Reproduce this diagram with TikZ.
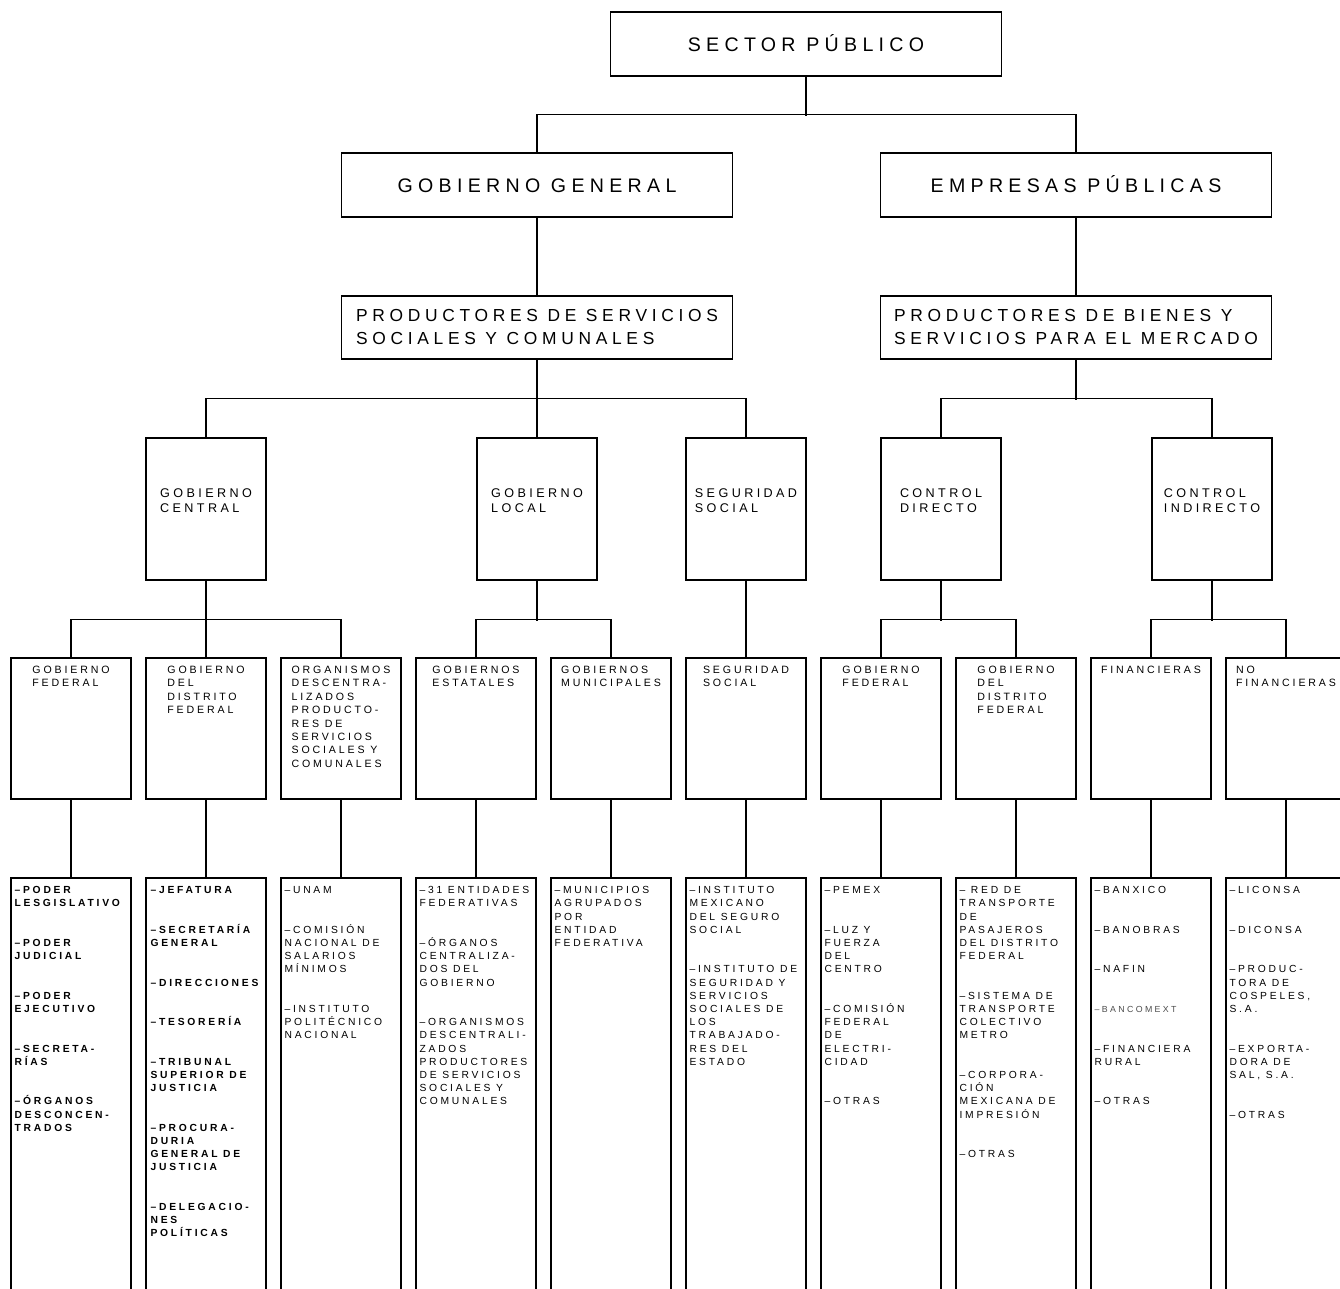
\documentclass[tikz,border=0pt]{standalone}
\usepackage{fontspec}
\setmainfont{Liberation Sans}[LetterSpace=27]
\usetikzlibrary{positioning}
\newcommand{\blankrow}{\\[26.4pt]}

\begin{document}
\begin{tikzpicture}[x=1pt,y=-1pt,
    every node/.style={inner sep=0pt},
    headbox/.style={draw,line width=1.3pt,minimum width=391pt,minimum height=64pt,
      text height=14pt,text depth=0pt,font=\fontsize{19.6}{22}\selectfont},
    prodbox/.style={draw,line width=1.3pt,minimum width=391pt,minimum height=63pt,align=left,
      font=\fontsize{17.4}{23}\selectfont},
    unitbox/.style={draw,line width=1.3pt,minimum width=120pt,minimum height=142pt},
    subbox/.style={unitbox,minimum height=141pt},
    listbox/.style={unitbox,minimum height=500pt},
    unittext/.style={align=left,font=\fontsize{12.6}{15}\selectfont},
    subtext/.style={align=left,font=\fontsize{10.6}{13.4}\selectfont},
    listtext/.style={align=left,font=\fontsize{10.3}{13.2}\selectfont},
    boldtext/.style={align=left,font=\fontsize{10.3}{13.2}\selectfont\bfseries},
    link/.style={line width=1.2pt}]
    \useasboundingbox (0,0) rectangle (1340,1288);
    \clip (0,0) rectangle (1340,1288);

    % top levels
    \node[headbox] (sp) at (806,44) {SECTOR PÚBLICO};
    \node[headbox] (gg) at (537,185) {GOBIERNO GENERAL};
    \node[headbox] (ep) at (1076,185) {EMPRESAS PÚBLICAS};
    \node[prodbox] (pss) at (537,327.5) {PRODUCTORES DE SERVICIOS\\SOCIALES Y COMUNALES};
    \node[prodbox] (pbs) at (1076,327.5) {PRODUCTORES DE BIENES Y\\SERVICIOS PARA EL MERCADO};

    % units
    \node[unitbox] (gc) at (206,509) {};
    \node[unitbox] (gl) at (537,509) {};
    \node[unitbox] (ss) at (746,509) {};
    \node[unitbox] (cd) at (941,509) {};
    \node[unitbox] (ci) at (1212,509) {};
    \node[unittext,below=51pt of gc.north] (gct) {GOBIERNO\\CENTRAL};
    \node[unittext,below=51pt of gl.north] (glt) {GOBIERNO\\LOCAL};
    \node[unittext,below=51pt of ss.north] (sst) {SEGURIDAD\\SOCIAL};
    \node[unittext,below=51pt of cd.north] (cdt) {CONTROL\\DIRECTO};
    \node[unittext,below=51pt of ci.north] (cit) {CONTROL\\INDIRECTO};

    % sub units
    \foreach \i/\x in {1/71,2/206,3/341,4/476,5/611,6/746,7/881,8/1016,9/1151,10/1286}{
      \node[subbox] (sub\i) at (\x,728.5) {};
      \node[listbox] (lst\i) at (\x,1128) {};
    }
    \node[subtext,below=8.5pt of sub1.north] (sub1t) {GOBIERNO\\FEDERAL};
    \node[subtext,below=8.5pt of sub2.north] (sub2t) {GOBIERNO\\DEL\\DISTRITO\\FEDERAL};
    \node[subtext,below=8.5pt of sub3.north] (sub3t) {ORGANISMOS\\DESCENTRA-\\LIZADOS\\PRODUCTO-\\RES DE\\SERVICIOS\\SOCIALES Y\\COMUNALES};
    \node[subtext,below=8.5pt of sub4.north] (sub4t) {GOBIERNOS\\ESTATALES};
    \node[subtext,below=8.5pt of sub5.north] (sub5t) {GOBIERNOS\\MUNICIPALES};
    \node[subtext,below=8.5pt of sub6.north] (sub6t) {SEGURIDAD\\SOCIAL};
    \node[subtext,below=8.5pt of sub7.north] (sub7t) {GOBIERNO\\FEDERAL};
    \node[subtext,below=8.5pt of sub8.north] (sub8t) {GOBIERNO\\DEL\\DISTRITO\\FEDERAL};
    \node[subtext,below=8.5pt of sub9.north] (sub9t) {FINANCIERAS};
    \node[subtext,below=8.5pt of sub10.north] (sub10t) {NO\\FINANCIERAS};

    % lists
    \node[boldtext,below right=9pt and 4pt of lst1.north west] (lst1t)
      {–PODER\\LESGISLATIVO\blankrow –PODER\\JUDICIAL\blankrow –PODER\\EJECUTIVO\blankrow
       –SECRETA-\\RÍAS\blankrow –ÓRGANOS\\DESCONCEN-\\TRADOS};
    \node[boldtext,below right=9pt and 5pt of lst2.north west] (lst2t)
      {–JEFATURA\blankrow –SECRETARÍA\\GENERAL\blankrow –DIRECCIONES\blankrow –TESORERÍA\blankrow
       –TRIBUNAL\\SUPERIOR DE\\JUSTICIA\blankrow –PROCURA-\\DURIA\\GENERAL DE\\JUSTICIA\blankrow
       –DELEGACIO-\\NES\\POLÍTICAS};
    \node[listtext,below right=9pt and 4pt of lst3.north west] (lst3t)
      {–UNAM\blankrow –COMISIÓN\\NACIONAL DE\\SALARIOS\\MÍNIMOS\blankrow
       –INSTITUTO\\POLITÉCNICO\\NACIONAL};
    \node[listtext,below right=9pt and 4pt of lst4.north west] (lst4t)
      {–31 ENTIDADES\\FEDERATIVAS\blankrow –ÓRGANOS\\CENTRALIZA-\\DOS DEL\\GOBIERNO\blankrow
       –ORGANISMOS\\DESCENTRALI-\\ZADOS\\PRODUCTORES\\DE SERVICIOS\\SOCIALES Y\\COMUNALES};
    \node[listtext,below right=9pt and 4pt of lst5.north west] (lst5t)
      {–MUNICIPIOS\\AGRUPADOS\\POR\\ENTIDAD\\FEDERATIVA};
    \node[listtext,below right=9pt and 4pt of lst6.north west] (lst6t)
      {–INSTITUTO\\MEXICANO\\DEL SEGURO\\SOCIAL\blankrow –INSTITUTO DE\\SEGURIDAD Y\\SERVICIOS\\
       SOCIALES DE\\LOS\\TRABAJADO-\\RES DEL\\ESTADO};
    \node[listtext,below right=9pt and 4pt of lst7.north west] (lst7t)
      {–PEMEX\blankrow –LUZ Y\\FUERZA\\DEL\\CENTRO\blankrow –COMISIÓN\\FEDERAL\\DE\\ELECTRI-\\CIDAD\blankrow
       –OTRAS};
    \node[listtext,below right=9pt and 4pt of lst8.north west] (lst8t)
      {– RED DE\\TRANSPORTE\\DE\\PASAJEROS\\DEL DISTRITO\\FEDERAL\blankrow
       –SISTEMA DE\\TRANSPORTE\\COLECTIVO\\METRO\blankrow –CORPORA-\\CIÓN\\MEXICANA DE\\IMPRESIÓN\blankrow
       –OTRAS};
    \node[listtext,below right=9pt and 4pt of lst9.north west] (lst9t)
      {–BANXICO\blankrow –BANOBRAS\blankrow –NAFIN\blankrow
       {\fontsize{8.8}{13.2}\selectfont\color{black!70}–BANCOMEXT}\blankrow –FINANCIERA\\RURAL\blankrow –OTRAS};
    \node[listtext,below right=9pt and 4pt of lst10.north west] (lst10t)
      {–LICONSA\blankrow –DICONSA\blankrow –PRODUC-\\TORA DE\\COSPELES,\\S.A.\blankrow
       –EXPORTA-\\DORA DE\\SAL, S.A.\blankrow –OTRAS};

    % connectors
    \draw[link] (sp.south) -- ++(0,39);
    \draw[link] (gg.north) -- ++(0,-38) -| (ep.north);
    \draw[link] (gg.south) -- (pss.north);
    \draw[link] (ep.south) -- (pbs.north);
    \draw[link] (pss.south) -- (gl.north);
    \draw[link] (gc.north) -- ++(0,-39) -| (ss.north);
    \draw[link] (pbs.south) -- ++(0,40);
    \draw[link] (cd.north) -- ++(0,-39) -| (ci.north);
    \draw[link] (gc.south) -- (sub2.north);
    \draw[link] (sub1.north) -- ++(0,-38) -| (sub3.north);
    \draw[link] (gl.south) -- ++(0,40);
    \draw[link] (sub4.north) -- ++(0,-38) -| (sub5.north);
    \draw[link] (ss.south) -- (sub6.north);
    \draw[link] (cd.south) -- ++(0,40);
    \draw[link] (sub7.north) -- ++(0,-38) -| (sub8.north);
    \draw[link] (ci.south) -- ++(0,40);
    \draw[link] (sub9.north) -- ++(0,-38) -| (sub10.north);
    \foreach \i in {1,...,10}{
      \draw[link] (sub\i.south) -- (lst\i.north);
    }
\end{tikzpicture}
\end{document}
